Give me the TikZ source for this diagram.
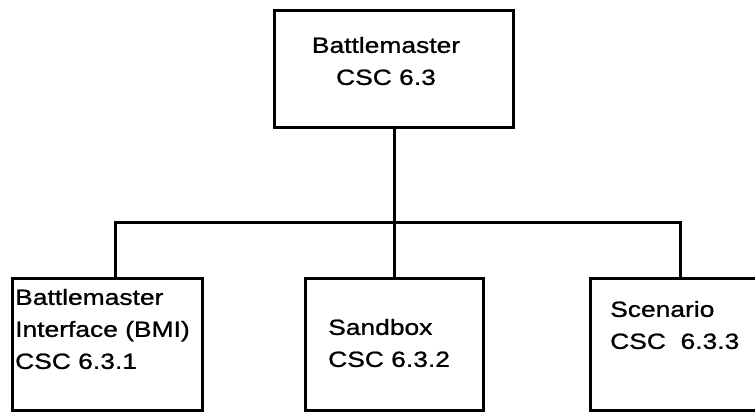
\documentclass[tikz,border=0pt]{standalone}
\usepackage{fontspec}
\newfontfamily\chartfont{Liberation Sans}[FakeStretch=1.2, FakeBold=1]
\usepackage{tikz}
\usetikzlibrary{calc,positioning}

\begin{document}
\begin{tikzpicture}[
    x=1pt, y=-1pt,
    font=\chartfont\fontsize{22}{32}\selectfont,
    box/.style={rectangle, draw=black, line width=3pt, fill=white, inner sep=0pt},
    caption/.style={inner sep=0pt, align=left},
    link/.style={line width=3pt}
]
    \useasboundingbox (0,0) rectangle (755,413);

    % --- BOXES ---
    \node[box, minimum width=239, minimum height=117] (Battlemaster) at (394,68.5) {};
    \node[box, minimum width=190, minimum height=132] (BMI) at (107,344) {};
    \node[box, minimum width=178, minimum height=132] (Sandbox) at (394,344) {};
    \node[box, minimum width=180, minimum height=132] (Scenario) at (680,344) {};

    % --- TEXTS ---
    \node[caption, align=center] (BattlemasterText) at (386,61) {Battlemaster\\CSC 6.3};
    \node[caption, anchor=west] (BMIText) at (15,329) {Battlemaster\\Interface (BMI)\\CSC 6.3.1};
    \node[caption, anchor=west] (SandboxText) at (328,343) {Sandbox\\CSC 6.3.2};
    \node[caption, anchor=west] (ScenarioText) at (610,325) {Scenario\\CSC\ \ 6.3.3};

    % --- CONNECTORS ---
    \coordinate (Bus) at (394,222);
    \draw[link] (Battlemaster.south) -- (Bus);
    \draw[link] (Bus) -| ([xshift=8pt]BMI.north);
    \draw[link] (Bus) -- (Sandbox.north);
    \draw[link] (Bus) -| (Scenario.north);

\end{tikzpicture}
\end{document}
